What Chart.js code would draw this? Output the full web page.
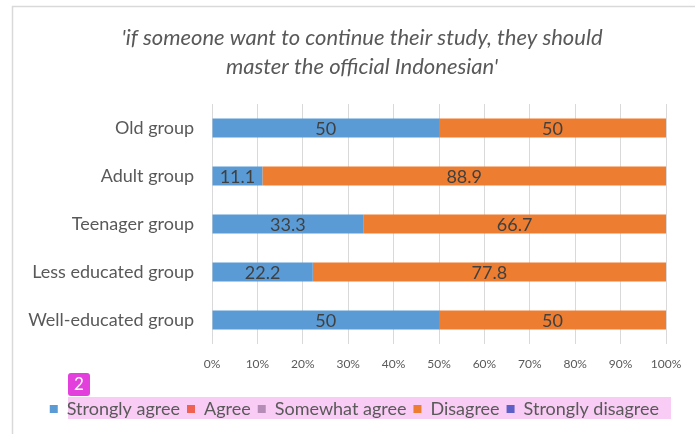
<!DOCTYPE html>
<html>
<head>
<meta charset="utf-8">
<script src="https://cdn.jsdelivr.net/npm/chart.js@4.4.1/dist/chart.umd.min.js"></script>
<style>
  html, body { margin: 0; padding: 0; background: #fff; }
  #wrap { width: 695px; height: 434px; }
</style>
</head>
<body>
<div id="wrap"><canvas id="chart" width="695" height="434"></canvas></div>
<script>
// chart data
const titleLines = [
  "'if someone want to continue their study, they should",
  "master the official Indonesian'",
];
const groups = [
  "Old group",
  "Adult group",
  "Teenager group",
  "Less educated group",
  "Well-educated group",
];
const seriesNames = [
  "Strongly agree",
  "Agree",
  "Somewhat agree",
  "Disagree",
  "Strongly disagree",
];
const stronglyAgree = [50, 11.1, 33.3, 22.2, 50];
const agree = [0, 0, 0, 0, 0];
const somewhatAgree = [0, 0, 0, 0, 0];
const disagree = [50, 88.9, 66.7, 77.8, 50];
const stronglyDisagree = [0, 0, 0, 0, 0];
const seriesColors = ["#5B9BD5", "#EF6150", "#B48CB6", "#ED7D31", "#5F5FC8"];

const allSeries = [stronglyAgree, agree, somewhatAgree, disagree, stronglyDisagree];

const textColor = "#595959";

// frame, title, highlight and badge
const decorPlugin = {
  id: "decor",
  beforeDraw(chart) {
    const ctx = chart.ctx;
    ctx.save();
    ctx.fillStyle = "#fff";
    ctx.fillRect(0, 0, chart.width, chart.height);
    // light chart frame
    ctx.strokeStyle = "#D9D9D9";
    ctx.lineWidth = 1.5;
    ctx.beginPath();
    ctx.moveTo(12.5, chart.height);
    ctx.lineTo(12.5, 6.5);
    ctx.lineTo(chart.width, 6.5);
    ctx.stroke();
    // pink highlight behind legend text
    ctx.fillStyle = "#F8CCF4";
    ctx.fillRect(68, 397, 603, 22);
    ctx.restore();
  },
  afterDraw(chart) {
    const ctx = chart.ctx;
    ctx.save();
    ctx.fillStyle = textColor;
    ctx.font = "italic 22px Lato";
    ctx.textAlign = "center";
    ctx.textBaseline = "middle";
    ctx.fillText(titleLines[0], 362, 38);
    ctx.fillText(titleLines[1], 362, 67);
    // magenta badge
    ctx.fillStyle = "#E23FDC";
    ctx.beginPath();
    ctx.roundRect(68, 373, 22, 23, 3);
    ctx.fill();
    ctx.fillStyle = "#fff";
    ctx.font = "17px Lato";
    ctx.fillText("2", 79, 385);
    ctx.restore();
  },
};

// value labels in the middle of each segment
const valueLabels = {
  id: "valueLabels",
  afterDatasetsDraw(chart) {
    const ctx = chart.ctx;
    ctx.save();
    ctx.fillStyle = "#404040";
    ctx.font = "18px Lato";
    ctx.textAlign = "center";
    ctx.textBaseline = "middle";
    chart.data.datasets.forEach((ds, i) => {
      const meta = chart.getDatasetMeta(i);
      meta.data.forEach((bar, j) => {
        const v = ds.data[j];
        if (!v) return;
        const p = bar.getCenterPoint();
        ctx.fillText(String(v), p.x, p.y + 1);
      });
    });
    ctx.restore();
  },
};

new Chart(document.getElementById("chart"), {
  type: "bar",
  data: {
    labels: groups,
    datasets: seriesNames.map((name, i) => ({
      label: name,
      data: allSeries[i],
      backgroundColor: seriesColors[i],
      borderWidth: 0,
      barPercentage: 0.4,
      categoryPercentage: 1,
    })),
  },
  options: {
    indexAxis: "y",
    responsive: false,
    animation: false,
    layout: { padding: { left: 12, right: 29, top: 104, bottom: 6 } },
    scales: {
      x: {
        stacked: true,
        min: 0,
        max: 100,
        ticks: {
          stepSize: 10,
          callback: (v) => v + "%",
          color: textColor,
          font: { family: "Lato", size: 12 },
          padding: 13,
        },
        grid: { color: "#D9D9D9", drawTicks: false },
        border: { display: false },
        afterFit(scale) {
          scale.height = 49;
        },
      },
      y: {
        stacked: true,
        ticks: {
          color: textColor,
          font: { family: "Lato", size: 18 },
          padding: 18,
        },
        grid: { display: false, drawTicks: false },
        border: { display: false },
        afterFit(scale) {
          scale.width = 200;
        },
      },
    },
    plugins: {
      title: { display: false },
      tooltip: { enabled: false },
      legend: {
        position: "bottom",
        align: "end",
        labels: {
          boxWidth: 8,
          boxHeight: 8,
          padding: 7,
          color: textColor,
          font: { family: "Lato", size: 18 },
        },
      },
    },
  },
  plugins: [decorPlugin, valueLabels],
});
</script>
</body>
</html>
